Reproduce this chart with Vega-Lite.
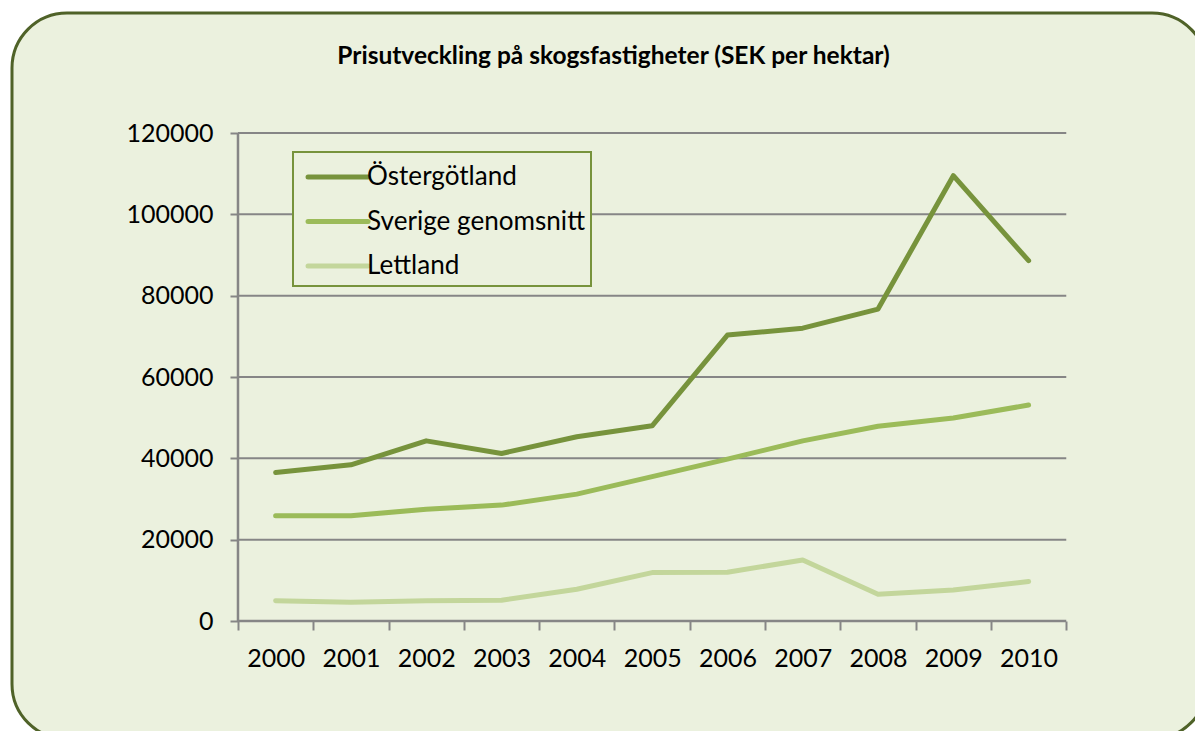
{
  "$schema": "https://vega.github.io/schema/vega-lite/v6.json",
  "width": 1195,
  "height": 726,
  "autosize": {"type": "none"},
  "padding": {"left": 12, "top": 13, "right": 0, "bottom": 0},
  "background": "#ffffff",
  "title": {
    "text": "Prisutveckling på skogsfastigheter (SEK per hektar)",
    "font": "Lato", "fontSize": 24.5, "fontWeight": "bold", "color": "#000000",
    "anchor": "middle", "offset": -75, "baseline": "alphabetic", "dx": 4
  },
  "config": {
    "view": {"fill": "#EBF1DE", "stroke": "#4F6228", "strokeWidth": 3, "cornerRadius": 55},
    "font": "Lato"
  },
  "resolve": {"axis": {"x": "independent", "y": "independent"}},
  "layer": [
    {
      "data": {"values": [{"g": 20000}, {"g": 40000}, {"g": 60000}, {"g": 80000}, {"g": 100000}, {"g": 120000}]},
      "mark": {"type": "rule", "color": "#868686", "strokeWidth": 2},
      "encoding": {
        "y": {"field": "g", "type": "quantitative", "scale": {"domain": [-29016.4, 149508.2], "nice": false, "zero": false}, "axis": null},
        "x": {"datum": 1999.5, "type": "quantitative", "scale": {"domain": [1996.4987, 2012.369], "nice": false, "zero": false}, "axis": null},
        "x2": {"datum": 2010.5}
      }
    },
    {
      "data": {"values": [{}]},
      "mark": {"type": "rule", "color": "#868686", "strokeWidth": 2.5},
      "encoding": {
        "x": {"datum": 1999.5, "type": "quantitative", "scale": {"domain": [1996.4987, 2012.369], "nice": false, "zero": false}, "axis": null},
        "y": {"datum": 0, "type": "quantitative", "scale": {"domain": [-29016.4, 149508.2], "nice": false, "zero": false}, "axis": null},
        "y2": {"datum": 120000}
      }
    },
    {
      "data": {"values": [{}]},
      "mark": {"type": "rule", "color": "#868686", "strokeWidth": 2.5},
      "encoding": {
        "y": {"datum": 0, "type": "quantitative", "scale": {"domain": [-29016.4, 149508.2], "nice": false, "zero": false}, "axis": null},
        "x": {"datum": 1999.5, "type": "quantitative", "scale": {"domain": [1996.4987, 2012.369], "nice": false, "zero": false}, "axis": null},
        "x2": {"datum": 2010.5}
      }
    },
    {
      "data": {"values": [
        {"year": 2000, "serie": "Östergötland", "value": 36500},
        {"year": 2001, "serie": "Östergötland", "value": 38400},
        {"year": 2002, "serie": "Östergötland", "value": 44300},
        {"year": 2003, "serie": "Östergötland", "value": 41200},
        {"year": 2004, "serie": "Östergötland", "value": 45300},
        {"year": 2005, "serie": "Östergötland", "value": 48000},
        {"year": 2006, "serie": "Östergötland", "value": 70300},
        {"year": 2007, "serie": "Östergötland", "value": 72000},
        {"year": 2008, "serie": "Östergötland", "value": 76700},
        {"year": 2009, "serie": "Östergötland", "value": 109500},
        {"year": 2010, "serie": "Östergötland", "value": 88600},
        {"year": 2000, "serie": "Sverige genomsnitt", "value": 25900},
        {"year": 2001, "serie": "Sverige genomsnitt", "value": 25900},
        {"year": 2002, "serie": "Sverige genomsnitt", "value": 27500},
        {"year": 2003, "serie": "Sverige genomsnitt", "value": 28500},
        {"year": 2004, "serie": "Sverige genomsnitt", "value": 31200},
        {"year": 2005, "serie": "Sverige genomsnitt", "value": 35500},
        {"year": 2006, "serie": "Sverige genomsnitt", "value": 39800},
        {"year": 2007, "serie": "Sverige genomsnitt", "value": 44300},
        {"year": 2008, "serie": "Sverige genomsnitt", "value": 47900},
        {"year": 2009, "serie": "Sverige genomsnitt", "value": 49900},
        {"year": 2010, "serie": "Sverige genomsnitt", "value": 53100},
        {"year": 2000, "serie": "Lettland", "value": 5000},
        {"year": 2001, "serie": "Lettland", "value": 4600},
        {"year": 2002, "serie": "Lettland", "value": 5000},
        {"year": 2003, "serie": "Lettland", "value": 5100},
        {"year": 2004, "serie": "Lettland", "value": 7800},
        {"year": 2005, "serie": "Lettland", "value": 11900},
        {"year": 2006, "serie": "Lettland", "value": 12000},
        {"year": 2007, "serie": "Lettland", "value": 15000},
        {"year": 2008, "serie": "Lettland", "value": 6600},
        {"year": 2009, "serie": "Lettland", "value": 7600},
        {"year": 2010, "serie": "Lettland", "value": 9700}
      ]},
      "mark": {"type": "line", "strokeWidth": 5, "strokeCap": "round", "strokeJoin": "round"},
      "encoding": {
        "x": {
          "field": "year", "type": "quantitative",
          "scale": {"domain": [1996.4987, 2012.369], "nice": false, "zero": false},
          "axis": {
            "orient": "bottom", "offset": -118,
            "values": [1999.5, 2000.5, 2001.5, 2002.5, 2003.5, 2004.5, 2005.5, 2006.5, 2007.5, 2008.5, 2009.5, 2010.5],
            "labelExpr": "datum.value < 2010 ? format(datum.value + 0.5, 'd') : ''",
            "labelOffset": 37.65, "labelFlush": false, "labelOverlap": false, "labelBound": false,
            "domain": false, "grid": false, "ticks": true, "tickSize": 9, "tickColor": "#868686", "tickWidth": 2,
            "labelFont": "Lato", "labelFontSize": 25, "labelColor": "#000000", "labelPadding": 16, "title": null
          }
        },
        "y": {
          "field": "value", "type": "quantitative",
          "scale": {"domain": [-29016.4, 149508.2], "nice": false, "zero": false},
          "axis": {
            "orient": "left", "offset": -226,
            "values": [0, 20000, 40000, 60000, 80000, 100000, 120000],
            "format": "d", "domain": false, "grid": false, "ticks": true, "tickSize": 8, "tickColor": "#868686", "tickWidth": 2,
            "labelFont": "Lato", "labelFontSize": 25, "labelColor": "#000000", "labelPadding": 17, "title": null,
            "labelFlush": false, "labelOverlap": false, "labelBound": false
          }
        },
        "color": {
          "field": "serie", "type": "nominal",
          "scale": {"domain": ["Östergötland", "Sverige genomsnitt", "Lettland"], "range": ["#77933C", "#9BBB59", "#C3D69B"]},
          "legend": {
            "orient": "none", "legendX": 281, "legendY": 139,
            "title": " ", "titleFontSize": 1, "titlePadding": 5,
            "symbolType": "M-0.4,0H5.6", "symbolSize": 400, "symbolStrokeWidth": 5,
            "labelFont": "Lato", "labelFontSize": 26.1, "labelColor": "#000000", "labelOffset": 42,
            "rowPadding": 17.5, "padding": 6,
            "fillColor": "#EBF1DE", "strokeColor": "#77933C",
            "labelLimit": 400,
            "encode": {
              "symbols": {"update": {"strokeCap": {"value": "round"}}},
              "legend": {"update": {"strokeWidth": {"value": 2}}}
            }
          }
        }
      }
    }
  ]
}
